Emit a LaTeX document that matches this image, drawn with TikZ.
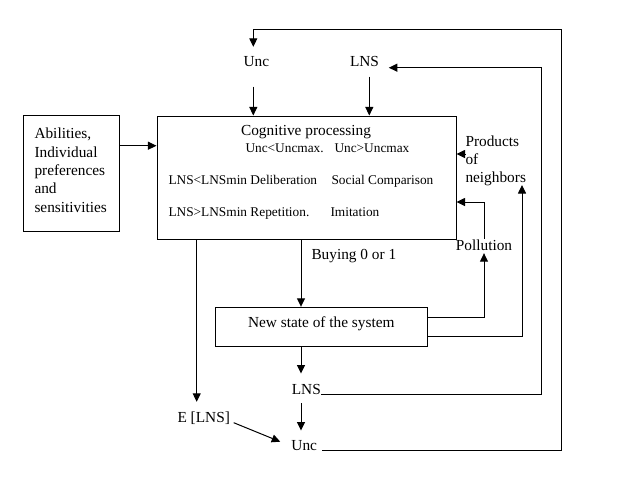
\documentclass[tikz,border=0pt]{standalone}
\usepackage{fontspec}
\setmainfont{Liberation Serif}
\usetikzlibrary{arrows.meta,calc}
\begin{document}
\begin{tikzpicture}[x=0.75pt,y=-0.75pt,line width=0.75pt,
  arr/.style={-{Triangle[length=6.4pt,width=6pt]}},
  txt/.style={inner sep=0pt,font=\fontsize{11.5}{13.8}\selectfont,text height=8pt,text depth=2pt},
  sml/.style={inner sep=0pt,anchor=west,font=\fontsize{10}{12}\selectfont,text height=7pt,text depth=2pt},
  multi/.style={inner sep=0pt,align=left,anchor=north west,font=\fontsize{11.5}{13.8}\selectfont},
  box/.style={draw,inner sep=0pt}]
\fill[white] (0,0) rectangle (640,480);
\useasboundingbox (0,0) rectangle (640,480);

% boxes
\node[box,minimum width=72pt,minimum height=87pt] (ab) at (71.5,173.5) {};
\node[multi] (abt) at (34,127.5) {Abilities,\\Individual\\preferences\\and\\sensitivities};
\node[box,minimum width=224.25pt,minimum height=92.25pt] (cog) at (306.5,177.5) {};
\node[txt] (cogt) at (306,131.7) {Cognitive processing};
\node[sml] (c1) at (245,149) {Unc<Uncmax.};
\node[sml] (c2) at (334,149) {Unc>Uncmax};
\node[sml] (r1) at (168,181) {LNS<LNSmin Deliberation};
\node[sml] (r1b) at (331,181) {Social Comparison};
\node[sml] (r2) at (168,212.7) {LNS>LNSmin Repetition.};
\node[sml] (r2b) at (330,212.7) {Imitation};
\node[box,minimum width=159pt,minimum height=29.25pt] (ns) at (321,326.8) {};
\node[txt] (nst) at (321.3,323.3) {New state of the system};

% labels
\node[txt] (uncT) at (256.4,62.7) {Unc};
\node[txt] (lnsT) at (364.5,62.7) {LNS};
\node[multi] (prod) at (465,135) {Products\\of\\neighbors};
\node[txt] (poll) at (484,246) {Pollution};
\node[txt,anchor=west] (buy) at (311,255) {Buying 0 or 1};
\node[txt] (lnsB) at (306.3,390) {LNS};
\node[txt] (uncB) at (304.2,446.7) {Unc};
\node[txt] (elns) at (203.7,418.3) {E [LNS]};

% helper coordinates
\coordinate (xU) at (253.3,86.7);
\coordinate (xL) at (369.3,76.7);
\coordinate (yAb) at (0,145.7);
\coordinate (yPr) at (0,154);
\coordinate (yPo) at (0,202);
\coordinate (yPoS) at (0,317.3);
\coordinate (yNb) at (0,336.3);
\coordinate (nbTip) at (522,185);
\coordinate (xB) at (301,0);
\coordinate (xE) at (196.7,0);
\coordinate (cTop) at (561,29.3);
\coordinate (cR) at (541,67.7);

% connectors
\draw[arr] (xU) -- (xU |- cog.north);
\draw[arr] (xL) -- (xL |- cog.north);
\draw[arr] (ab.east |- yAb) -- (cog.west |- yAb);
\draw[arr] (prod.west |- yPr) -- (cog.east |- yPr);
\draw[arr] (ns.east |- yPoS) -| (poll.south);
\draw[arr] (poll.north) |- (cog.east |- yPo);
\draw[arr] (ns.east |- yNb) -| (nbTip);
\draw[arr] (cog.south -| xB) -- (ns.north -| xB);
\draw[arr] (ns.south -| xB) -- ($(lnsB.north -| xB)+(0,-9.3)$);
\draw[arr] ($(lnsB.south -| xB)+(0,6)$) -- ($(uncB.north -| xB)+(0,-9)$);
\draw[arr] (cog.south -| xE) -- ($(elns.north -| xE)+(0,-9.3)$);
\draw[arr] ([shift={(2.5pt,-3.3pt)}]elns.east) -- ([shift={(-8pt,3.75pt)}]uncB.west);
\draw[arr] ([shift={(3.75pt,-3pt)}]uncB.east) -| (cTop) -| ($(uncT.north -| xU)+(0,-8.7)$);
\draw[arr] ([yshift=-3pt]lnsB.east) -| (cR) -- ($(lnsT.east |- cR)+(9.3,0)$);
\end{tikzpicture}
\end{document}
